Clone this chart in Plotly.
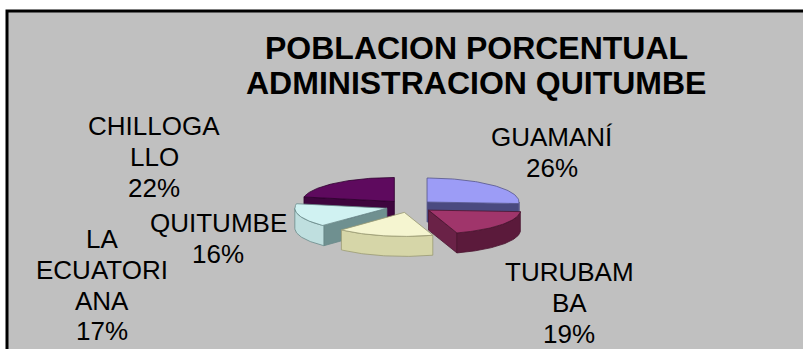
import numpy as np
import plotly.graph_objects as go

# ---------------- data ----------------
categories = ["GUAMANÍ", "TURUBAMBA", "LA ECUATORIANA", "QUITUMBE", "CHILLOGALLO"]
values = [26, 19, 17, 16, 22]
label_lines = [["GUAMANÍ"], ["TURUBAM", "BA"], ["LA", "ECUATORI", "ANA"], ["QUITUMBE"], ["CHILLOGA", "LLO"]]
title_lines = ["POBLACION PORCENTUAL", "ADMINISTRACION QUITUMBE"]

# ---------------- style / layout constants ----------------
W, H = 803, 349
CX, CY = 409.6, 206.3      # centre of the (unexploded) top face, px
RX, RY = 92.0, 24.0        # ellipse radii, px
DEPTH = 20.0               # thickness of the 3D pie, px
EXPLODE = 0.26             # explode fraction of the radius

top_colors = ["#9C9CF6", "#A0356B", "#F5F5D0", "#D0F2F2", "#5E0A5E"]
wall_colors = ["#4C4C82", "#5B1A3B", "#D6D6A8", "#BFDFDF", "#3C063C"]
cut_colors = ["#4A4A80", "#6A2247", "#BDBD92", "#6F9090", "#3E053E"]
edge_colors = ["#55558A", "#4A1530", "#9A9A72", "#6A8A8A", "#2E002E"]

# label anchor: (centre x, top of first line's caps)
label_pos = [(552, 128), (569, 263), (102, 230), (218, 214), (154, 117)]
LABEL_SIZE = 26
LABEL_SPACING = 30.7
TITLE_SIZE = 32
TITLE_POS = [(476, 47.5), (476, 82.5)]
FONT = "Liberation Sans, Arial, sans-serif"

fig = go.Figure()

total = float(sum(values))
ranges = []
ang = 90.0
for v in values:
    hi = ang
    lo = ang - v / total * 360.0
    ranges.append((lo, hi))
    ang = lo


def pt(theta, ox, oy, dz=0.0):
    t = np.radians(theta)
    return CX + ox + RX * np.cos(t), CY + oy - RY * np.sin(t) + dz


def arc(a0, a1, ox, oy, dz=0.0, n=60):
    th = np.linspace(a0, a1, n)
    xs, ys = pt(th, ox, oy, dz)
    return list(xs), list(ys)


def add_poly(xs, ys, fill, edge):
    fig.add_trace(go.Scatter(x=xs + [xs[0]], y=ys + [ys[0]], mode="lines", fill="toself",
                             fillcolor=fill, line=dict(color=edge, width=0.8),
                             hoverinfo="skip", showlegend=False))


mids = [(lo + hi) / 2 for lo, hi in ranges]
order = sorted(range(len(values)), key=lambda i: -np.sin(np.radians(mids[i])))

for i in order:
    lo, hi = ranges[i]
    mid = np.radians(mids[i])
    ox = EXPLODE * RX * np.cos(mid)
    oy = -EXPLODE * RY * np.sin(mid)
    ax, ay = CX + ox, CY + oy

    # radial cut faces
    for a, vis in ((hi, np.cos(np.radians(hi)) < -1e-9), (lo, np.cos(np.radians(lo)) > 1e-9)):
        if vis:
            rx_, ry_ = pt(a, ox, oy)
            rxb, ryb = pt(a, ox, oy, DEPTH)
            add_poly([ax, float(rx_), float(rxb), ax], [ay, float(ry_), float(ryb), ay + DEPTH],
                     cut_colors[i], edge_colors[i])

    # outer (front) curved wall
    for k in (-1, 0, 1):
        s = max(lo, -180 + 360 * k)
        t = min(hi, 360 * k)
        if t - s > 1e-6:
            xt, yt = arc(s, t, ox, oy)
            xb, yb = arc(t, s, ox, oy, DEPTH)
            add_poly(xt + xb, yt + yb, wall_colors[i], edge_colors[i])

    # top face
    xs, ys = arc(hi, lo, ox, oy)
    add_poly([ax] + xs, [ay] + ys, top_colors[i], edge_colors[i])

# ---------------- labels ----------------
annotations = []
cap = 0.716 * LABEL_SIZE
for i, lines in enumerate(label_lines):
    pct = f"{round(values[i] / total * 100):d}%"
    x0, y0 = label_pos[i]
    for j, txt in enumerate(lines + [pct]):
        annotations.append(dict(x=x0, y=y0 + j * LABEL_SPACING + cap / 2, xref="x", yref="y",
                                text=txt, showarrow=False, xanchor="center", yanchor="middle",
                                font=dict(family=FONT, size=LABEL_SIZE, color="#000000")))

for (tx, ty), txt in zip(TITLE_POS, title_lines):
    annotations.append(dict(x=tx, y=ty, xref="x", yref="y", text=f"<b>{txt}</b>", showarrow=False,
                            xanchor="center", yanchor="middle",
                            font=dict(family=FONT, size=TITLE_SIZE, color="#000000")))

fig.update_layout(
    width=W, height=H,
    margin=dict(l=0, r=0, t=0, b=0, pad=0),
    paper_bgcolor="#FFFFFF", plot_bgcolor="#FFFFFF",
    xaxis=dict(range=[0, W], visible=False, fixedrange=True),
    yaxis=dict(range=[H, 0], visible=False, fixedrange=True),
    showlegend=False,
    annotations=annotations,
    shapes=[dict(type="rect", xref="x", yref="y", x0=7, y0=11, x1=W + 40, y1=H + 40,
                 line=dict(color="#000000", width=3), fillcolor="#C0C0C0", layer="below")],
)

fig.write_html("out.html")
